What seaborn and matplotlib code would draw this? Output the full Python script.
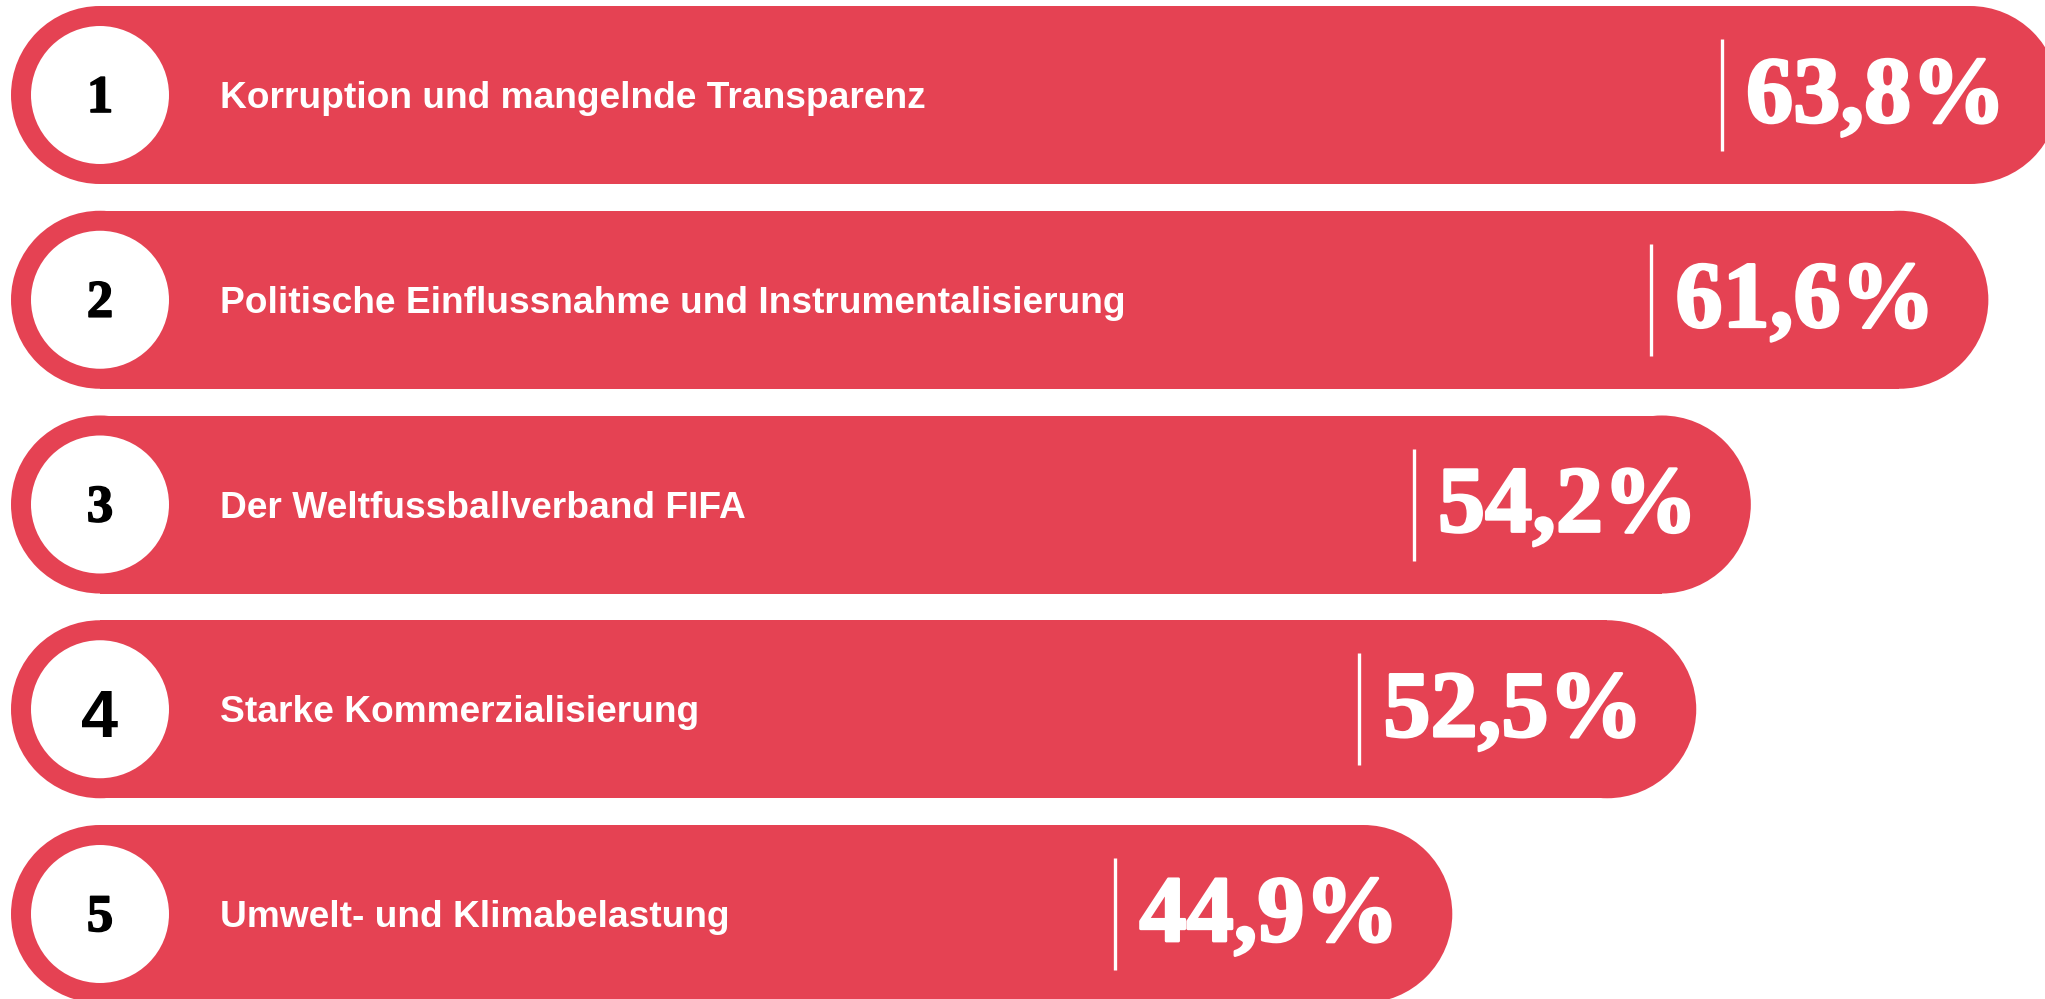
import seaborn as sns
import matplotlib.pyplot as plt
import matplotlib.patheffects as pe
from matplotlib.patches import Ellipse

# data
ranks = ["1", "2", "3", "4", "5"]
labels = [
    "Korruption und mangelnde Transparenz",
    "Politische Einflussnahme und Instrumentalisierung",
    "Der Weltfussballverband FIFA",
    "Starke Kommerzialisierung",
    "Umwelt- und Klimabelastung",
]
values = [63.8, 61.6, 54.2, 52.5, 44.9]
value_labels = ["63,8%", "61,6%", "54,2%", "52,5%", "44,9%"]

red = "#e54253"

sns.set_theme(style="white")

fig = plt.figure(figsize=(20.45, 9.99), dpi=100)
ax = fig.add_axes([0, 0, 1, 1])

# pixel scales: 32.1 px per percent, 204.75 px per row
px_x = 32.1
px_y = 204.75
bar_h = 178 / px_y

sns.barplot(x=values, y=list(range(len(values))), orient="h", color=red,
            saturation=1, width=bar_h, ax=ax, native_scale=True, linewidth=0)

ax.set_xlim(-11 / px_x, (2045 - 11) / px_x)
ax.set_ylim((999 - 95) / px_y, -95 / px_y)
ax.axis("off")

# turn the plain bars into pills: shorten and add round caps
rx = 89 / px_x
for p in list(ax.patches):
    x, y, w, h = p.get_x(), p.get_y(), p.get_width(), p.get_height()
    cy = y + h / 2
    p.set_x(x + rx)
    p.set_width(w - 2 * rx)
    for cx in (x + rx, x + w - rx):
        ax.add_patch(Ellipse((cx, cy), 2 * rx, h, facecolor=red, edgecolor="none"))

bold_w = [pe.withStroke(linewidth=2.0, foreground="white")]
bold_k = [pe.withStroke(linewidth=1.2, foreground="black")]

for i, (r, lab, v, vl) in enumerate(zip(ranks, labels, values, value_labels)):
    # white circle with rank
    ax.add_patch(Ellipse((rx, i), 138 / px_x, 138 / px_y, facecolor="white",
                         edgecolor="none", zorder=3))
    if r == "4":
        ax.text(rx, i + 28 / px_y, r, ha="center", va="baseline", fontsize=48,
                fontweight="bold", family="Liberation Sans", color="black", zorder=4)
    else:
        ax.text(rx, i + 17 / px_y, r, ha="center", va="baseline", fontsize=38,
                fontweight="bold", family="Liberation Serif", color="black",
                zorder=4, path_effects=bold_k)
    # label
    ax.text(209 / px_x, i + 13 / px_y, lab, ha="left", va="baseline",
            fontsize=26.7, fontweight="bold", family="Liberation Sans",
            color="white", zorder=4)
    # separator line and value
    lx = v - 337 / px_x
    ax.plot([lx, lx], [i - 56 / px_y, i + 56 / px_y], color="white", lw=2.4,
            solid_capstyle="butt", zorder=4)
    ax.text(lx + 24 / px_x, i + 27 / px_y, vl, ha="left", va="baseline",
            fontsize=68, fontweight="bold", family="Liberation Serif",
            color="white", zorder=4, path_effects=bold_w)

fig.savefig("out.png", dpi=100, facecolor="white")
